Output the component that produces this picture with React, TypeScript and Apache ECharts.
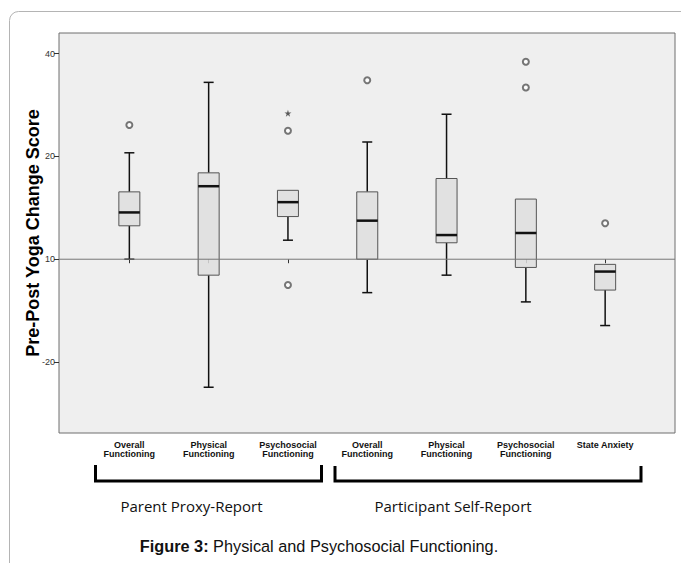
import React, { useEffect, useRef } from "react";
import * as echarts from "echarts";

const categories = [
  "Overall\nFunctioning",
  "Physical\nFunctioning",
  "Psychosocial\nFunctioning",
  "Overall\nFunctioning",
  "Physical\nFunctioning",
  "Psychosocial\nFunctioning",
  "State Anxiety",
];
const lowWhisker = [0, -24.9, 3.7, -6.5, -3.1, -8.3, -12.9];
const q1 = [6.5, -3.1, 8.3, 0, 3.2, -1.6, -6.0];
const median = [9.1, 14.2, 11.1, 7.5, 4.7, 5.1, -2.4];
const q3 = [13.1, 16.8, 13.4, 13.1, 15.7, 11.7, -1.0];
const highWhisker = [20.7, 34.4, 13.4, 22.8, 28.2, 11.7, -1.0];
const outliers: [number, number][] = [
  [0, 26.1],
  [2, 25.0],
  [2, -5.0],
  [3, 34.8],
  [5, 38.4],
  [5, 33.4],
  [6, 7.0],
];
const extremes: [number, number][] = [[2, 28.4]];
const yTicks = [-20, 0, 20, 40];
const yTickLabels: Record<string, string> = { "-20": "-20", "0": "10", "20": "20", "40": "40" };
const groupLabels = ["Parent Proxy-Report", "Participant Self-Report"];
const yMin = -33.8;
const yMax = 44;

const STAR = "path://M50,0 L61,35 L98,35 L68,57 L79,91 L50,70 L21,91 L32,57 L2,35 L39,35 Z";

export default function App() {
  const ref = useRef<HTMLDivElement>(null);
  useEffect(() => {
    if (!ref.current) return;
    const chart = echarts.init(ref.current, null, { renderer: "svg" });
    const boxData = categories.map((_, i) => [i, lowWhisker[i], q1[i], median[i], q3[i], highWhisker[i]]);
    const option: any = {
      animation: false,
      backgroundColor: "#ffffff",
      grid: [
        {
          left: 59,
          top: 33,
          width: 616,
          height: 400,
          show: true,
          backgroundColor: "#efefef",
          borderColor: "#6e6e6e",
          borderWidth: 1,
        },
        { left: 89.7, top: 33, width: 555.1, height: 400 },
      ],
      xAxis: [
        { type: "value", gridIndex: 0, min: 0, max: 1, show: false },
        {
          type: "category",
          gridIndex: 1,
          data: categories,
          axisLine: { show: false },
          axisTick: { show: true, alignWithLabel: true, length: 4, lineStyle: { color: "#333", width: 1 } },
          axisLabel: {
            interval: 0,
            fontSize: 9,
            fontWeight: "bold",
            fontFamily: "Liberation Sans, Arial, sans-serif",
            color: "#111",
            lineHeight: 9,
            margin: 7,
          },
          splitLine: { show: false },
        },
      ],
      yAxis: [
        {
          type: "value",
          gridIndex: 0,
          min: yMin,
          max: yMax,
          axisLine: { show: false },
          axisTick: { show: true, customValues: yTicks, length: 5, lineStyle: { color: "#333" } },
          axisLabel: {
            customValues: yTicks,
            formatter: (v: number) => yTickLabels[String(v)] ?? String(v),
            fontSize: 9,
            color: "#333",
            margin: 4,
            fontFamily: "Liberation Sans, Arial, sans-serif",
          },
          splitLine: { show: false },
          name: "Pre-Post Yoga Change Score",
          nameLocation: "middle",
          nameGap: 17,
          nameMoveOverlap: false,
          nameTextStyle: {
            fontSize: 18,
            fontWeight: "bold",
            color: "#000",
            fontFamily: "Liberation Sans, Arial, sans-serif",
          },
        },
        { type: "value", gridIndex: 1, min: yMin, max: yMax, show: false },
      ],
      series: [
        {
          type: "line",
          xAxisIndex: 0,
          yAxisIndex: 0,
          data: [
            [0, 0],
            [1, 0],
          ],
          symbol: "none",
          lineStyle: { color: "#777", width: 1 },
          silent: true,
        },
        {
          type: "custom",
          xAxisIndex: 1,
          yAxisIndex: 1,
          data: boxData,
          encode: { x: 0, y: [1, 2, 3, 4, 5] },
          renderItem: (params: any, api: any) => {
            const idx = api.value(0);
            const lo = api.coord([idx, api.value(1)]);
            const b1 = api.coord([idx, api.value(2)]);
            const md = api.coord([idx, api.value(3)]);
            const b3 = api.coord([idx, api.value(4)]);
            const hi = api.coord([idx, api.value(5)]);
            const x = lo[0];
            const boxW = 21;
            const capW = 10;
            const wStyle = { stroke: "#111", lineWidth: 1.5 };
            const children: any[] = [];
            if (hi[1] < b3[1] - 0.5) {
              children.push({ type: "line", shape: { x1: x, y1: hi[1], x2: x, y2: b3[1] }, style: wStyle });
              children.push({ type: "line", shape: { x1: x - capW / 2, y1: hi[1], x2: x + capW / 2, y2: hi[1] }, style: wStyle });
            }
            if (lo[1] > b1[1] + 0.5) {
              children.push({ type: "line", shape: { x1: x, y1: b1[1], x2: x, y2: lo[1] }, style: wStyle });
              children.push({ type: "line", shape: { x1: x - capW / 2, y1: lo[1], x2: x + capW / 2, y2: lo[1] }, style: wStyle });
            }
            children.push({
              type: "rect",
              shape: { x: x - boxW / 2, y: b3[1], width: boxW, height: b1[1] - b3[1] },
              style: { fill: "rgba(222,222,222,0.85)", stroke: "#555", lineWidth: 1 },
            });
            children.push({
              type: "line",
              shape: { x1: x - boxW / 2, y1: md[1], x2: x + boxW / 2, y2: md[1] },
              style: { stroke: "#111", lineWidth: 2.5 },
            });
            return { type: "group", children };
          },
          z: 3,
        },
        {
          type: "scatter",
          xAxisIndex: 1,
          yAxisIndex: 1,
          data: outliers,
          symbol: "emptyCircle",
          symbolSize: 6,
          itemStyle: { color: "#555", borderColor: "#555", borderWidth: 1 },
          z: 4,
        },
        {
          type: "scatter",
          xAxisIndex: 1,
          yAxisIndex: 1,
          data: extremes,
          symbol: STAR,
          symbolSize: 7,
          itemStyle: { color: "#333" },
          z: 4,
        },
      ],
      graphic: [
        {
          type: "rect",
          shape: { x: 9.5, y: 11.5, width: 700, height: 600, r: 9 },
          style: { fill: "none", stroke: "#b4b4b4", lineWidth: 1 },
          silent: true,
          z: -1,
        },
        {
          type: "polyline",
          shape: { points: [[95.5, 465], [95.5, 481], [321.5, 481], [321.5, 465]] },
          style: { stroke: "#000", lineWidth: 3, fill: "none" },
        },
        {
          type: "polyline",
          shape: { points: [[335, 466], [335, 481], [641, 481], [641, 466]] },
          style: { stroke: "#000", lineWidth: 3, fill: "none" },
        },
        {
          type: "text",
          x: 191.5,
          y: 506,
          style: {
            text: groupLabels[0],
            fontSize: 15,
            fontFamily: "Open Sans, sans-serif",
            fill: "#111",
            align: "center",
            verticalAlign: "middle",
          },
        },
        {
          type: "text",
          x: 453,
          y: 506,
          style: {
            text: groupLabels[1],
            fontSize: 15,
            fontFamily: "Open Sans, sans-serif",
            fill: "#111",
            align: "center",
            verticalAlign: "middle",
          },
        },
        {
          type: "text",
          x: 319,
          y: 546,
          style: {
            text: "{b|Figure 3:} Physical and Psychosocial Functioning.",
            fontSize: 16.3,
            fontFamily: "Liberation Sans, Arial, sans-serif",
            fill: "#111",
            align: "center",
            verticalAlign: "middle",
            rich: {
              b: { fontSize: 16.3, fontWeight: "bold", fontFamily: "Liberation Sans, Arial, sans-serif", fill: "#111" },
            },
          },
        },
      ],
    };
    chart.setOption(option);
    return () => chart.dispose();
  }, []);
  return <div ref={ref} style={{ position: "fixed", left: 0, top: 0, width: 681, height: 563 }} />;
}
